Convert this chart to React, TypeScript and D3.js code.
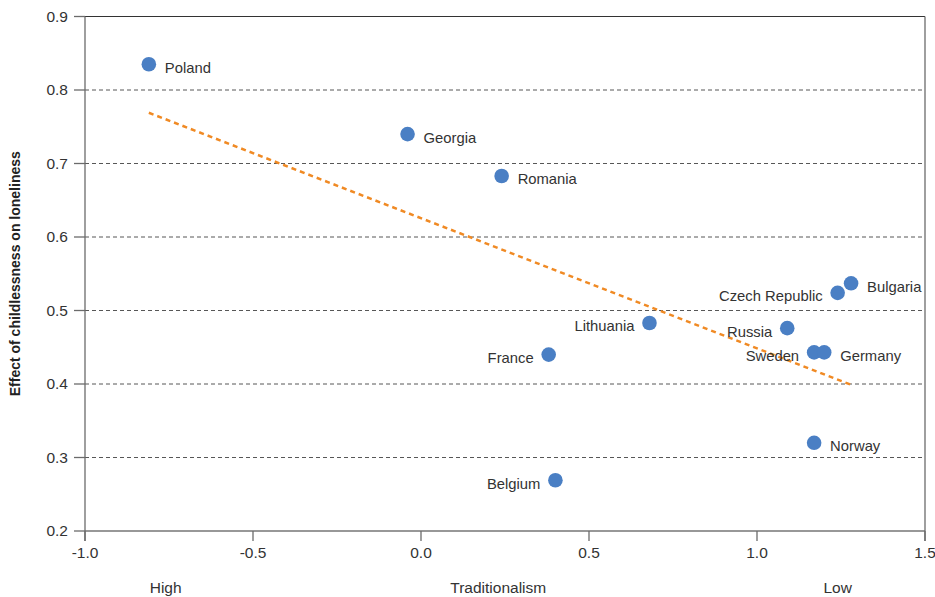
import React from "react";
import * as d3 from "d3";

const countries = ["Poland", "Georgia", "Romania", "Lithuania", "France", "Belgium", "Russia", "Sweden", "Germany", "Czech Republic", "Bulgaria", "Norway"];
const traditionalism = [-0.81, -0.04, 0.24, 0.68, 0.38, 0.40, 1.09, 1.17, 1.20, 1.24, 1.28, 1.17];
const effect = [0.835, 0.740, 0.683, 0.483, 0.440, 0.269, 0.476, 0.443, 0.443, 0.524, 0.537, 0.320];
const labelSide = ["right", "right", "right", "left", "left", "left", "left", "left", "right", "left", "right", "right"];
const trendX = [-0.81, 1.28];
const trendY = [0.769, 0.399];
const xTicks = [-1.0, -0.5, 0.0, 0.5, 1.0, 1.5];
const yTicks = [0.2, 0.3, 0.4, 0.5, 0.6, 0.7, 0.8, 0.9];
const xCaptions = [
  { text: "High", at: -0.76 },
  { text: "Traditionalism", at: 0.23 },
  { text: "Low", at: 1.24 },
];

const W = 935, H = 597;
const left = 85, right = 925, top = 16.5, bottom = 531;
const font = "'Liberation Sans', Arial, sans-serif";

export default function App() {
  const x = d3.scaleLinear().domain([-1, 1.5]).range([left, right]);
  const y = d3.scaleLinear().domain([0.2, 0.9]).range([bottom, top]);
  const line = d3.line<number>().x((d) => x(trendX[d])).y((d) => y(trendY[d]));
  const axisColor = "#6b6b6b";
  return (
    <svg width={W} height={H} style={{ position: "absolute", left: 0, top: 0, background: "#fff" }}>
      {/* grid */}
      {yTicks.filter((t) => t > 0.2 && t < 0.9).map((t) => (
        <line key={"g" + t} x1={left} x2={right} y1={y(t)} y2={y(t)} stroke="#444" strokeWidth={0.9} strokeDasharray="4,3" />
      ))}
      {/* frame */}
      <line x1={left - 11} x2={right} y1={y(0.9)} y2={y(0.9)} stroke="#333" strokeWidth={1.2} />
      <line x1={left} x2={right} y1={bottom} y2={bottom} stroke="#333" strokeWidth={1.2} />
      <line x1={left} x2={left} y1={top} y2={bottom + 10} stroke={axisColor} strokeWidth={1.3} />
      <line x1={right} x2={right} y1={top} y2={bottom + 10} stroke={axisColor} strokeWidth={1.3} />
      {/* y ticks */}
      {yTicks.map((t) => (
        <g key={"y" + t}>
          <line x1={left - 11} x2={left} y1={y(t)} y2={y(t)} stroke={axisColor} strokeWidth={1.3} />
          <text x={left - 17} y={y(t)} dy="0.35em" textAnchor="end" fontFamily={font} fontSize={15.5} fill="#333">
            {t.toFixed(1)}
          </text>
        </g>
      ))}
      {/* x ticks */}
      {xTicks.map((t) => (
        <g key={"x" + t}>
          <line x1={x(t)} x2={x(t)} y1={bottom} y2={bottom + 10} stroke={axisColor} strokeWidth={1.3} />
          <text x={x(t)} y={bottom + 27} textAnchor="middle" fontFamily={font} fontSize={15.5} fill="#333">
            {t.toFixed(1)}
          </text>
        </g>
      ))}
      {xCaptions.map((c) => (
        <text key={c.text} x={x(c.at)} y={593} textAnchor="middle" fontFamily={font} fontSize={15.5} fill="#333">
          {c.text}
        </text>
      ))}
      <text
        transform={`translate(20,${(top + bottom) / 2}) rotate(-90)`}
        textAnchor="middle"
        fontFamily={font}
        fontSize={14}
        fontWeight="bold"
        fill="#222"
      >
        Effect of childlessness on loneliness
      </text>
      {/* trend */}
      <path d={line([0, 1]) || ""} fill="none" stroke="#f08a24" strokeWidth={2.5} strokeDasharray="5,4" />
      {/* points */}
      {countries.map((c, i) => (
        <circle key={"c" + c} cx={x(traditionalism[i])} cy={y(effect[i])} r={7.3} fill="#4a7fc4" />
      ))}
      {countries.map((c, i) => (
        <text
          key={"t" + c}
          x={x(traditionalism[i]) + (labelSide[i] === "right" ? 16 : -15)}
          y={y(effect[i]) + 8.5}
          textAnchor={labelSide[i] === "right" ? "start" : "end"}
          fontFamily={font}
          fontSize={14.8}
          fill="#333"
        >
          {c}
        </text>
      ))}
    </svg>
  );
}
